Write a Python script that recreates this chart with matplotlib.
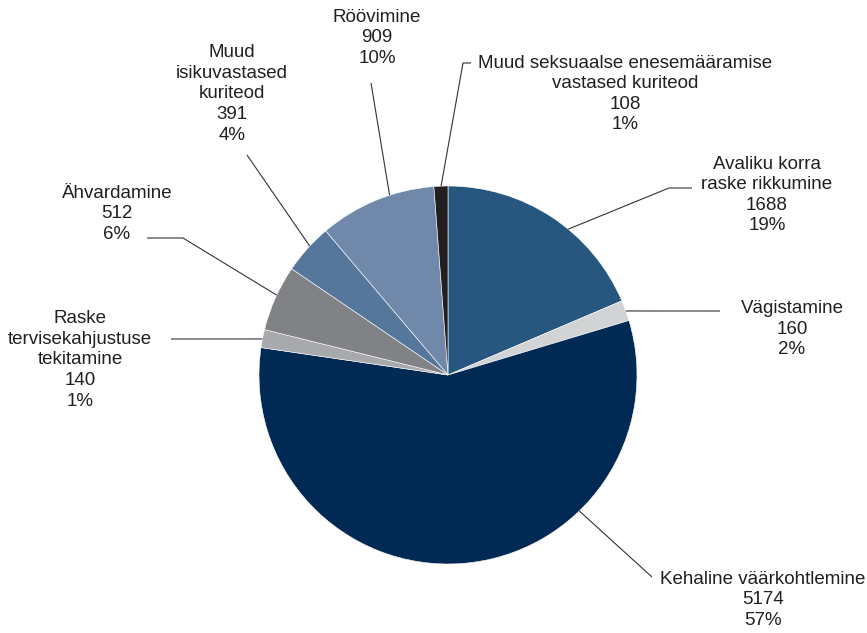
import matplotlib.pyplot as plt
import numpy as np

labels = ["Avaliku korra\nraske rikkumine", "Vägistamine", "Kehaline väärkohtlemine",
          "Raske\ntervisekahjustuse\ntekitamine", "Ähvardamine",
          "Muud\nisikuvastased\nkuriteod", "Röövimine",
          "Muud seksuaalse enesemääramise\nvastased kuriteod"]
counts = [1688, 160, 5174, 140, 512, 391, 909, 108]
shares = ["19%", "2%", "57%", "1%", "6%", "4%", "10%", "1%"]
colors = ["#27567f", "#d1d3d4", "#002a53", "#a7a9ac", "#808285",
          "#56779c", "#7089ab", "#231f20"]

W, H = 867, 633
cx, cy, r = 448, H - 375, 189

# label block centres and leader lines, in pixels from the top-left corner
text_pos = [(767, 195), (792, 329), (763, 600), (80, 360), (117, 214),
            (232, 94), (377, 38), (625, 94)]
anchor_deg = [50.5, 19.8, -46, 169, 155, 137, 108, 92.1]
leader = [[(669, 188), (692, 188)], [(720, 311)], [(652, 577)], [(171, 339)],
          [(183, 238), (147, 238)], [(247, 155)], [(371, 83)],
          [(463, 63), (471, 63)]]

fig = plt.figure(figsize=(W / 100, H / 100), dpi=100)
ax = fig.add_axes([0, 0, 1, 1])
ax.pie(counts, colors=colors, startangle=90, counterclock=False,
       center=(cx, cy), radius=r,
       wedgeprops=dict(edgecolor="white", linewidth=0.4))
ax.set_xlim(0, W)
ax.set_ylim(0, H)
ax.set_aspect("equal")
ax.axis("off")

for i in range(len(counts)):
    a = np.radians(anchor_deg[i])
    xs = [cx + r * np.cos(a)] + [p[0] for p in leader[i]]
    ys = [cy + r * np.sin(a)] + [H - p[1] for p in leader[i]]
    ax.plot(xs, ys, color="#333333", lw=0.8, solid_capstyle="butt")
    tx, ty = text_pos[i]
    ax.text(tx, H - ty, f"{labels[i]}\n{counts[i]}\n{shares[i]}",
            ha="center", va="center", fontsize=13.5, family="Liberation Sans",
            color="#231f20", linespacing=1.28)

fig.savefig("out.png", dpi=100)
